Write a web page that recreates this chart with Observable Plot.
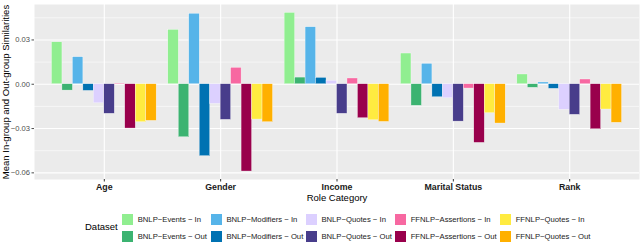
<!DOCTYPE html>
<html>
<head>
<meta charset="utf-8">
<script src="https://cdn.jsdelivr.net/npm/d3@7"></script>
<script src="https://cdn.jsdelivr.net/npm/@observablehq/plot@0.6"></script>
<style>
  html, body { margin: 0; padding: 0; background: #fff; }
  body { width: 640px; height: 242px; overflow: hidden; font-family: "Liberation Sans", Arial, sans-serif; }
  #legend { position: relative; height: 37px; }
  #legend .title { position: absolute; left: 85px; top: 16px; font-size: 9.5px; color: #000; }
  #legend .grid { position: absolute; left: 122px; top: 9px; display: grid;
    grid-template-columns: 88.7px 95px 89.3px 105px auto; grid-auto-flow: column;
    grid-template-rows: 11.5px 11.5px; row-gap: 5.2px; }
  #legend .item { display: flex; align-items: center; font-size: 7.7px; color: #1a1a1a; white-space: nowrap; }
  #legend .key { width: 11px; height: 11px; margin-right: 4.7px; flex: none; }
</style>
</head>
<body>
<div id="chart"></div>
<div id="legend"><div class="title">Dataset</div><div class="grid"></div></div>
<script>
const roles = ["Age", "Gender", "Income", "Marital Status", "Rank"];
const datasets = [
  "BNLP−Events − In", "BNLP−Events − Out",
  "BNLP−Modifiers − In", "BNLP−Modifiers − Out",
  "BNLP−Quotes − In", "BNLP−Quotes − Out",
  "FFNLP−Assertions − In", "FFNLP−Assertions − Out",
  "FFNLP−Quotes − In", "FFNLP−Quotes − Out"
];
const colors = ["#90EE90", "#3CB371", "#56B4E9", "#0072B2", "#DCD0FF",
                "#483D8B", "#F768A1", "#99004C", "#FFEB40", "#FFB000"];

// values per dataset, in the order of roles
const bnlpEventsIn      = [0.0284, 0.0368, 0.0483, 0.0208, 0.0066];
const bnlpEventsOut     = [-0.0043, -0.0359, 0.0045, -0.0146, -0.0024];
const bnlpModifiersIn   = [0.0183, 0.0477, 0.0386, 0.0138, 0.0012];
const bnlpModifiersOut  = [-0.0045, -0.0487, 0.0043, -0.0088, -0.0031];
const bnlpQuotesIn      = [-0.0129, -0.0133, 0.0023, -0.0095, -0.0173];
const bnlpQuotesOut     = [-0.0200, -0.0241, -0.0200, -0.0253, -0.0207];
const ffnlpAssertionsIn = [0.0004, 0.0111, 0.0039, -0.0029, 0.0032];
const ffnlpAssertionsOut= [-0.0300, -0.0591, -0.0230, -0.0397, -0.0305];
const ffnlpQuotesIn     = [-0.0257, -0.0239, -0.0244, -0.0196, -0.0171];
const ffnlpQuotesOut    = [-0.0248, -0.0257, -0.0255, -0.0266, -0.0261];

const series = [bnlpEventsIn, bnlpEventsOut, bnlpModifiersIn, bnlpModifiersOut,
  bnlpQuotesIn, bnlpQuotesOut, ffnlpAssertionsIn, ffnlpAssertionsOut,
  ffnlpQuotesIn, ffnlpQuotesOut];

const yTicks = [-0.06, -0.03, 0, 0.03];
const yMinor = [-0.045, -0.015, 0.015, 0.045];

const dodge = 0.9 / datasets.length;
const data = [];
series.forEach((vals, di) => vals.forEach((v, ri) => data.push({
  role: roles[ri], ri, dataset: datasets[di], di, value: v
})));

const font = "Liberation Sans, Arial, sans-serif";
const chart = Plot.plot({
  width: 640,
  height: 205,
  marginLeft: 34,
  marginRight: 1,
  marginTop: 4,
  marginBottom: 26,
  style: { fontFamily: font, background: "white" },
  x: { type: "linear", domain: [-0.6, roles.length - 0.4] },
  y: { domain: [-0.0645, 0.054] },
  color: { domain: datasets, range: colors },
  marks: [
    Plot.frame({ fill: "#EBEBEB", stroke: null }),
    Plot.ruleY(yMinor, { stroke: "white", strokeWidth: 0.55 }),
    Plot.ruleY(yTicks, { stroke: "white", strokeWidth: 1.1 }),
    Plot.ruleX(d3.range(roles.length), { stroke: "white", strokeWidth: 1.1 }),
    Plot.rectY(data, {
      x1: d => d.ri - 0.45 + d.di * dodge,
      x2: d => d.ri - 0.45 + (d.di + 1) * dodge,
      y1: 0, y2: "value",
      fill: "dataset",
      stroke: "white", strokeWidth: 0.4, strokeOpacity: 0.8
    }),
    Plot.axisY({ ticks: yTicks, tickFormat: d3.format(".2f"), tickSize: 2.5, tickPadding: 2,
      fontSize: 7.6, color: "#4D4D4D", label: null }),
    Plot.axisX({ ticks: d3.range(roles.length), tickFormat: i => roles[i], tickSize: 2.5,
      tickPadding: 1.5, fontSize: 8.8, fontWeight: "bold", color: "#333", fill: "#1a1a1a", label: null }),
    Plot.text(["Mean In-group and Out-group Similarities"], { frameAnchor: "left", rotate: -90,
      dx: -28.5, textAnchor: "middle", lineAnchor: "middle", fontSize: 9.5, fill: "#000", text: d => d }),
    Plot.text(["Role Category"], { frameAnchor: "bottom", dy: 18, textAnchor: "middle",
      lineAnchor: "middle", fontSize: 9.5, fill: "#000", text: d => d })
  ]
});
document.getElementById("chart").appendChild(chart);

const grid = document.querySelector("#legend .grid");
datasets.forEach((name, i) => {
  const item = document.createElement("div");
  item.className = "item";
  const key = document.createElement("span");
  key.className = "key";
  key.style.background = colors[i];
  const lab = document.createElement("span");
  lab.textContent = name;
  item.appendChild(key);
  item.appendChild(lab);
  grid.appendChild(item);
});
</script>
</body>
</html>
